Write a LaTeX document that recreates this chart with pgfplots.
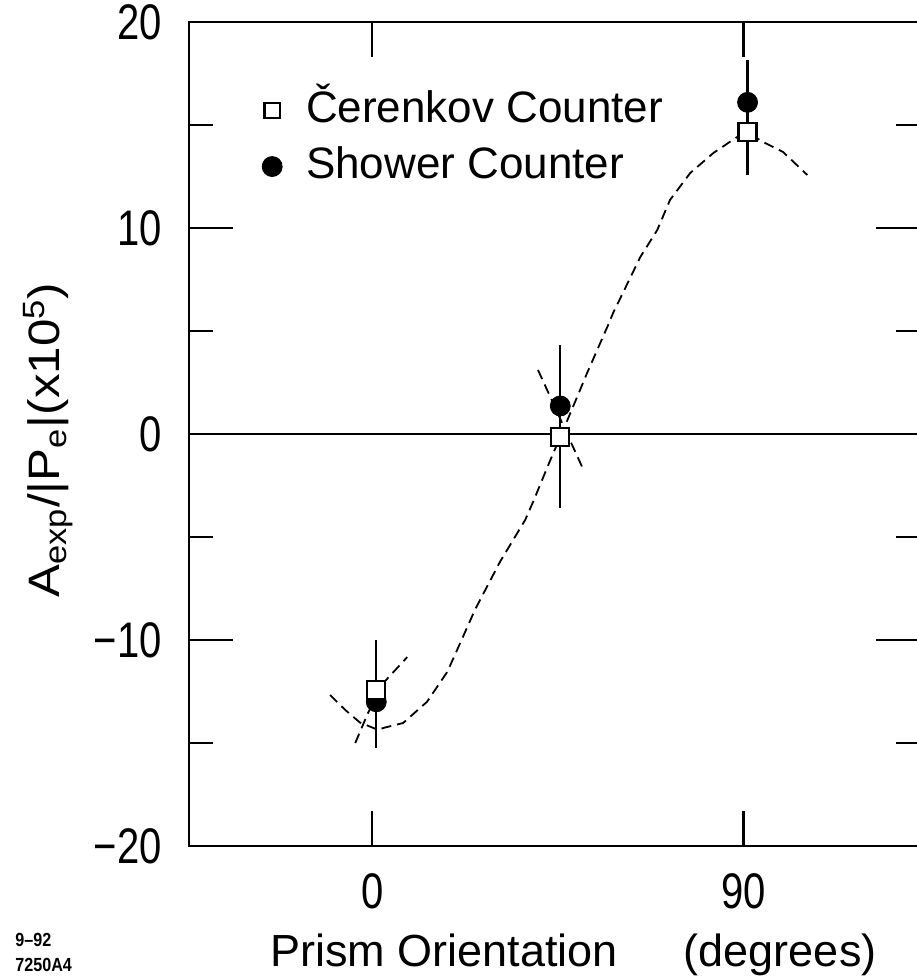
\documentclass[border=0pt]{standalone}
\usepackage{fontspec}
\setmainfont{Liberation Sans}
\usepackage{graphicx}
\usepackage{pgfplots}
\pgfplotsset{compat=1.18}

\begin{document}
\begin{tikzpicture}
\begin{axis}[
    at={(0pt,0pt)}, anchor=south west,
    scale only axis,
    width=365.5pt, height=412pt,
    xmin=-44.4, xmax=132.8,
    ymin=-20, ymax=20,
    axis line style={line width=1.2pt},
    every tick/.style={black, line width=1.2pt},
    tick align=inside,
    major tick length=22pt, minor tick length=12pt,
    xtick=\empty, minor xtick={45},
    extra x ticks={0,90}, extra x tick labels={0,90},
    extra x tick style={major tick length=17.5pt},
    ytick={-20,-10,0,10,20},
    yticklabels={−20,−10,0,10,20},
    minor ytick={-15,-5,5,15},
    tick label style={font=\fontsize{20}{24}\selectfont, yscale=1.25, inner sep=0pt},
    xticklabel style={anchor=north, yshift=-11pt},
    yticklabel style={anchor=east, xshift=-13.5pt},
    xlabel={Prism Orientation\hspace{33pt}(degrees)},
    xlabel style={font=\fontsize{22.5}{26}\selectfont, inner sep=0pt,
        at={(axis description cs:0.1108,0)}, anchor=base west, yshift=-60pt},
    ylabel={\scalebox{1.12}[1]{A\textsubscript{exp}/|P\textsubscript{e}|(x10\textsuperscript{5})}},
    ylabel style={font=\fontsize{22}{26}\selectfont,
        at={(axis description cs:-0.1765,0.4927)}, anchor=base},
    legend style={draw=none, fill=none, at={(axis description cs:0.0996,0.927)},
        anchor=north west, inner sep=0pt, column sep=11.9pt, row sep=0pt,
        font=\fontsize{22}{26}\selectfont,
        nodes={inner xsep=0pt, inner ysep=4pt, text height=16pt, text depth=4pt}},
    legend cell align=left,
    reverse legend,
]
% fitted curve
\addplot[black, line width=0.9pt, dash pattern=on 5pt off 3pt, forget plot] coordinates {
(-10.2,-12.67)(-6.5,-13.4)(-3,-14.0)(1.5,-14.37)(2.7,-14.27)(7.5,-14.03)
(13.3,-13.0)(18.2,-11.55)(20.8,-10.39)(25,-8.5)(31,-6.2)(37.1,-4.17)
(39.0,-3.30)(43.2,-1.26)(45.6,-0.15)(50.4,2.14)(52.1,2.96)(57.2,5.29)
(58.4,5.87)(65.0,8.59)(69.1,9.90)(72.2,11.36)(77.1,12.67)(82.7,13.64)
(88.5,14.42)(91.6,14.56)(94.8,14.17)(99.6,13.69)(105.5,12.57)
};
\addplot[black, line width=0.9pt, dash pattern=on 5pt off 3pt, forget plot] coordinates {
(-4.1,-15.0)(-1.0,-13.54)(2.7,-12.09)(8.5,-10.83)
};
\addplot[black, line width=0.9pt, dash pattern=on 5pt off 3pt, forget plot] coordinates {
(40.2,3.11)(50.9,-1.60)
};
\draw[line width=1.2pt] (axis cs:-44.4,0) -- (axis cs:132.8,0);
% Shower Counter
\addplot[only marks, mark=*, mark size=5pt, black,
    error bars/.cd, y dir=both, y explicit, error mark=none,
    error bar style={line width=1.2pt}] coordinates {
(1,-13.0) +- (0,2.25)
(45.6,1.36) +- (0,2.96)
(91,16.1) +- (0,2.05)
};
\addlegendentry{Shower Counter}
% Cerenkov Counter
\addplot[only marks, mark=square*, mark size=4.5pt, black,
    mark options={fill=white, draw=black, line width=1.2pt},
    legend image post style={mark size=3.8pt},
    error bars/.cd, y dir=both, y explicit, error mark=none,
    error bar style={line width=1.2pt}] coordinates {
(1,-12.43) +- (0,2.45)
(45.6,-0.15) +- (0,3.45)
(91,14.66) +- (0,2.1)
};
\addlegendentry{Čerenkov Counter}
\end{axis}
\node[anchor=west, font=\bfseries\fontsize{9.5}{11}\selectfont, xscale=0.85, inner sep=0pt] at (-87pt,-47pt) {9--92};
\node[anchor=west, font=\bfseries\fontsize{9.5}{11}\selectfont, xscale=0.85, inner sep=0pt] at (-87pt,-59.5pt) {7250A4};
\pgfresetboundingbox
\useasboundingbox (-94.5pt,-67pt) rectangle (363.5pt,423pt);
\end{tikzpicture}
\end{document}
